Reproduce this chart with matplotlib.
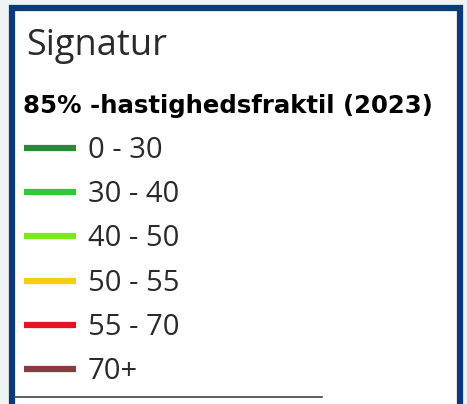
import matplotlib
matplotlib.use("Agg")
import matplotlib.pyplot as plt
from matplotlib.patches import Rectangle

# Legend content
title = "Signatur"
subtitle = "85% -hastighedsfraktil (2023)"
labels = ["0 - 30", "30 - 40", "40 - 50", "50 - 55", "55 - 70", "70+"]
colors = ["#2b8a3a", "#33c93a", "#7be81c", "#f7cf12", "#e3131f", "#8a3b40"]

fig = plt.figure(figsize=(4.67, 4.04), dpi=100, facecolor="#eef3f4")
ax = fig.add_axes([0, 0, 1, 1])
ax.set_xlim(0, 467)
ax.set_ylim(404, 0)
ax.axis("off")

# frame
ax.add_patch(Rectangle((11.5, 7.5), 448, 400, facecolor="white",
                       edgecolor="#0c3978", lw=4.5, zorder=1))
ax.plot([14, 322], [397, 397], color="#444444", lw=1.2, zorder=2)

ax.text(26, 55, title, fontsize=26, family="Open Sans", color="#2a2a2a",
        va="baseline", ha="left", zorder=3)
ax.text(23, 113, subtitle, fontsize=17.6, family="DejaVu Sans",
        fontweight="bold", color="black", va="baseline", ha="left", zorder=3)

y0, dy = 148, 44.2
for i, (lab, col) in enumerate(zip(labels, colors)):
    y = y0 + i * dy
    ax.plot([24, 76], [y, y], color=col, lw=4.5, solid_capstyle="butt", zorder=3)
    ax.text(88, y + 10, lab, fontsize=21, family="Open Sans", color="#2a2a2a",
            va="baseline", ha="left", zorder=3)

fig.savefig("out.png", dpi=100, facecolor=fig.get_facecolor())
